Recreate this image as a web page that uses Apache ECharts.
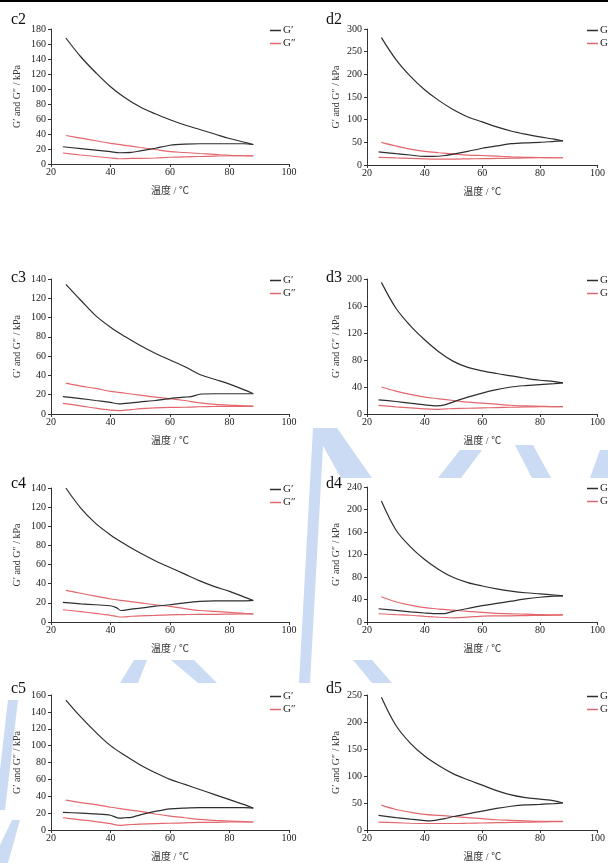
<!DOCTYPE html>
<html>
<head>
<meta charset="utf-8">
<script src="https://cdn.jsdelivr.net/npm/echarts@6/dist/echarts.min.js"></script>
<style>
  html, body { margin: 0; padding: 0; background: #fff; }
  #main { width: 608px; height: 863px; }
</style>
</head>
<body>
<div id="main"></div>
<script>
// heating run, same temperatures for every sample
const tempUp = [25, 30, 35, 40, 45, 50, 55, 60, 65, 70, 75, 80, 85, 88];

// c2
const c2Down = [88, 85, 80, 75, 70, 65, 60, 55, 50, 47, 43, 40, 35, 30, 24];
const c2GpUp = [168, 143, 122, 103, 88, 76, 67, 59, 52, 46, 40, 34, 29, 26];
const c2GpDown = [26, 27, 27, 27, 27, 26.5, 25, 21, 17.5, 15.5, 15, 16.5, 18.5, 20.5, 23];
const c2GppUp = [38, 34.5, 31, 27.6, 24.8, 22, 19.3, 16.5, 15.3, 14, 12.8, 11.6, 11, 10.7];
const c2GppDown = [11, 11, 11, 10.5, 10, 9.5, 9, 8, 7.5, 7.5, 7, 8, 10, 12, 14.7];

// d2
const d2Down = [88, 85, 80, 75, 70, 65, 60, 55, 50, 47, 43, 40, 35, 30, 24];
const d2GpUp = [281, 233, 196, 166, 142, 122, 106, 95, 84, 75, 68, 62, 57, 53];
const d2GpDown = [53, 52, 50, 49, 47, 42, 37, 30, 24, 21, 19, 19, 22, 25, 29];
const d2GppUp = [50, 42, 35, 30, 27, 24.5, 22, 21, 19.5, 18, 17, 16.5, 16, 16];
const d2GppDown = [16, 16, 16, 15.5, 15, 14.5, 14, 13.5, 13, 13, 13, 13.5, 14.5, 15.5, 17];

// c3
const c3Down = [88, 85, 80, 75, 70, 67, 65, 60, 55, 50, 47, 43, 40, 35, 30, 24];
const c3GpUp = [134.5, 118, 102, 90, 80, 71, 63, 56, 49, 41, 36, 31, 25, 21];
const c3GpDown = [21, 21, 21, 21, 20.5, 18, 17.5, 16, 14, 12.5, 11.5, 10.5, 12, 14, 16, 18];
const c3GppUp = [32, 29, 26.5, 23.5, 21.5, 19.5, 17.5, 16, 14, 11.5, 10, 9.3, 8.5, 8.3];
const c3GppDown = [8, 8, 8, 7.8, 7.5, 7.2, 7, 6.8, 6.3, 5.5, 4.5, 3.5, 4, 6, 8.5, 11];

// d3
const d3Down = [88, 85, 80, 75, 70, 65, 60, 55, 50, 47, 44, 40, 35, 30, 24];
const d3GpUp = [195, 157, 131, 110, 92, 78, 69, 64, 60, 56.5, 53, 50, 48, 46];
const d3GpDown = [46, 45, 43.5, 42, 40, 36, 31, 25, 18, 13.5, 12, 13.5, 16, 18.5, 21];
const d3GppUp = [40, 34, 29, 25, 22.5, 20, 17.5, 16, 14.5, 13, 12, 11.5, 11, 11];
const d3GppDown = [11, 11, 10.8, 10.5, 10, 9.5, 9, 8.5, 8, 7.5, 7, 7.5, 9, 10.5, 12.8];

// c4
const c4Down = [88, 85, 80, 75, 70, 65, 60, 55, 50, 47, 43.5, 42, 40, 35, 30, 24];
const c4GpUp = [140, 119, 103, 91, 81, 72, 64, 57, 50, 43, 37, 32, 26, 22.5];
const c4GpDown = [22.5, 22, 22, 22, 21.5, 20, 18, 16.5, 14.5, 13.5, 12, 15, 17, 18, 19, 20.5];
const c4GppUp = [33, 30, 27, 24, 22, 20, 18, 16.3, 14, 12, 11, 10, 9, 8.5];
const c4GppDown = [8.5, 8.5, 8.3, 8, 8, 7.8, 7.5, 7, 6.5, 6, 5.2, 5.8, 7, 9, 10.8, 12.8];

// d4
const d4Down = [88, 85, 80, 75, 70, 65, 60, 55, 50, 47, 43, 40, 35, 30, 24];
const d4GpUp = [215, 164, 134, 111, 93, 79, 70, 64, 59, 55, 52, 50, 48, 46.5];
const d4GpDown = [46.5, 46, 44, 41, 37, 33, 29, 24, 19, 15, 15, 16, 18, 20.5, 23.6];
const d4GppUp = [45, 36, 30, 25.5, 23, 21, 19, 17, 15.5, 14.5, 14, 13, 12.5, 12.5];
const d4GppDown = [12.5, 12, 11.8, 11.5, 11, 10.8, 10.5, 8.5, 7.5, 8, 9, 10, 12, 13, 14.7];

// c5
const c5Down = [88, 85, 80, 75, 70, 65, 60, 55, 50, 47, 45, 43, 40, 35, 30, 24];
const c5GpUp = [154, 134, 116, 100, 88, 77, 68, 60, 54, 48, 42, 36, 30, 26];
const c5GpDown = [26, 26.5, 26.5, 26.5, 26.5, 26, 25, 22, 18, 15, 14.5, 14, 17.5, 19, 20, 21];
const c5GppUp = [35.5, 32.5, 30, 27, 24.5, 22, 19, 16.5, 14.5, 12.5, 11.5, 10.5, 10, 9.5];
const c5GppDown = [9.5, 9.5, 9.5, 9, 9, 8.5, 8, 7.5, 7, 6.5, 6, 5.5, 7.5, 10, 12, 14.5];

// d5
const d5Down = [88, 85, 80, 75, 70, 65, 60, 55, 50, 47, 42, 40, 35, 30, 24];
const d5GpUp = [246, 194, 161, 137, 119, 104, 93, 83, 73, 65, 60, 57, 54, 50];
const d5GpDown = [50, 49, 47.5, 46.5, 44, 40, 35, 30, 25, 21, 17, 17.5, 20, 23, 27];
const d5GppUp = [46, 38, 33, 29, 27, 25, 23, 21, 19, 18, 17, 16, 16, 16];
const d5GppDown = [15.5, 15.5, 15, 14.5, 14, 13.5, 13, 12.5, 12, 12, 12, 12, 12.5, 13.5, 14.7];

const FONT = '"Liberation Serif", "Noto Sans CJK SC", serif';
const BLACK = '#2e2e2e';
const RED = '#e2686e';

const panels = [
  { label: 'c2', col: 0, top: 29, h: 135, titleTop: 12, ymax: 180, step: 20, down: c2Down, gu: c2GpUp, gd: c2GpDown, pu: c2GppUp, pd: c2GppDown },
  { label: 'd2', col: 1, top: 29, h: 136, titleTop: 12, ymax: 300, step: 50, down: d2Down, gu: d2GpUp, gd: d2GpDown, pu: d2GppUp, pd: d2GppDown },
  { label: 'c3', col: 0, top: 279, h: 135, titleTop: 270, ymax: 140, step: 20, down: c3Down, gu: c3GpUp, gd: c3GpDown, pu: c3GppUp, pd: c3GppDown },
  { label: 'd3', col: 1, top: 279, h: 135, titleTop: 270, ymax: 200, step: 40, down: d3Down, gu: d3GpUp, gd: d3GpDown, pu: d3GppUp, pd: d3GppDown },
  { label: 'c4', col: 0, top: 488, h: 134, titleTop: 476, ymax: 140, step: 20, down: c4Down, gu: c4GpUp, gd: c4GpDown, pu: c4GppUp, pd: c4GppDown },
  { label: 'd4', col: 1, top: 487, h: 135, titleTop: 476, ymax: 240, step: 40, down: d4Down, gu: d4GpUp, gd: d4GpDown, pu: d4GppUp, pd: d4GppDown },
  { label: 'c5', col: 0, top: 695, h: 136, titleTop: 681, ymax: 160, step: 20, down: c5Down, gu: c5GpUp, gd: c5GpDown, pu: c5GppUp, pd: c5GppDown },
  { label: 'd5', col: 1, top: 695, h: 136, titleTop: 681, ymax: 250, step: 50, down: d5Down, gu: d5GpUp, gd: d5GpDown, pu: d5GppUp, pd: d5GppDown }
];

const colLeft = [51, 367];
const colWidth = [238, 239];
const colTitleLeft = [11, 326];

function pairs(xs, ys) {
  return xs.map((x, i) => [x, ys[i]]);
}

const grid = [], xAxis = [], yAxis = [], series = [], title = [], legend = [];

panels.forEach((p, i) => {
  const left = colLeft[p.col];
  const width = colWidth[p.col];
  grid.push({ left: left, top: p.top, width: width, height: p.h, containLabel: false });
  title.push({
    text: p.label, left: colTitleLeft[p.col], top: p.titleTop, padding: 0,
    textStyle: { fontFamily: FONT, fontSize: 16, fontWeight: 'normal', color: '#111' }
  });
  legend.push({
    data: ['G′', 'G″'], orient: 'vertical', left: left + width - 19, top: p.top - 4,
    padding: 0, itemGap: 2, icon: 'rect', itemWidth: 11, itemHeight: 1.5,
    textStyle: { fontFamily: FONT, fontSize: 11, color: '#222', padding: [0, 0, 0, -3] },
    selectedMode: false
  });
  xAxis.push({
    gridIndex: i, type: 'value', min: 20, max: 100, interval: 20,
    name: '温度 / ℃', nameLocation: 'middle', nameGap: 22,
    nameTextStyle: { fontFamily: FONT, fontSize: 10, color: '#333' },
    axisLine: { lineStyle: { color: '#333', width: 1 } },
    axisTick: { inside: false, length: 3, lineStyle: { color: '#333' } },
    axisLabel: { fontFamily: FONT, fontSize: 10, color: '#222', margin: 3 },
    splitLine: { show: false }
  });
  yAxis.push({
    gridIndex: i, type: 'value', min: 0, max: p.ymax, interval: p.step,
    name: 'G′ and G″ / kPa', nameLocation: 'middle', nameGap: p.col === 0 ? 29 : 26, nameRotate: 90,
    nameTextStyle: { fontFamily: FONT, fontSize: 10, color: '#333' },
    axisLine: { show: true, lineStyle: { color: '#333', width: 1 } },
    axisTick: { show: true, inside: false, length: 3, lineStyle: { color: '#333' } },
    axisLabel: { fontFamily: FONT, fontSize: 10, color: '#222', margin: 5 },
    splitLine: { show: false }
  });
  const base = { type: 'line', xAxisIndex: i, yAxisIndex: i, showSymbol: false, animation: false };
  // heating curves are smooth, cooling ones keep their small kinks
  series.push(Object.assign({}, base, { name: 'G′', data: pairs(tempUp, p.gu), smooth: 0.35, color: BLACK, lineStyle: { color: BLACK, width: 1.2 }, z: 3 }));
  series.push(Object.assign({}, base, { name: 'G′', data: pairs(p.down, p.gd), smooth: 0.25, color: BLACK, lineStyle: { color: BLACK, width: 1.2 }, z: 3 }));
  series.push(Object.assign({}, base, { name: 'G″', data: pairs(tempUp, p.pu), smooth: 0.35, color: RED, lineStyle: { color: RED, width: 1.2 }, z: 2 }));
  series.push(Object.assign({}, base, { name: 'G″', data: pairs(p.down, p.pd), smooth: 0.25, color: RED, lineStyle: { color: RED, width: 1.2 }, z: 2 }));
});

// pale blue watermark pieces showing between the panels
const WM = '#cadbf3';
const watermark = [
  [[313, 428], [337, 428], [372, 478], [341, 478]],
  [[313, 428], [324, 428], [310, 683], [299, 683]],
  [[460, 450], [482, 450], [461, 478], [438, 478]],
  [[515, 445], [533, 445], [551, 478], [532, 478]],
  [[600, 450], [608, 450], [608, 478], [590, 478]],
  [[134, 660], [147, 660], [138, 683], [120, 683]],
  [[171, 660], [194, 660], [217, 683], [198, 683]],
  [[353, 660], [372, 660], [392, 683], [372, 683]],
  [[8, 700], [18, 700], [5, 810], [0, 810], [0, 770]],
  [[12, 820], [20, 820], [8, 863], [0, 863], [0, 845]]
].map(pts => ({ type: 'polygon', shape: { points: pts }, style: { fill: WM }, z: -1, silent: true }));

const chart = echarts.init(document.getElementById('main'));
chart.setOption({
  backgroundColor: '#fff',
  animation: false,
  title: title,
  legend: legend,
  grid: grid,
  xAxis: xAxis,
  yAxis: yAxis,
  series: series,
  graphic: watermark.concat([
    { type: 'rect', shape: { x: 0, y: 0, width: 608, height: 2 }, style: { fill: '#000' }, silent: true }
  ])
});
</script>
</body>
</html>
